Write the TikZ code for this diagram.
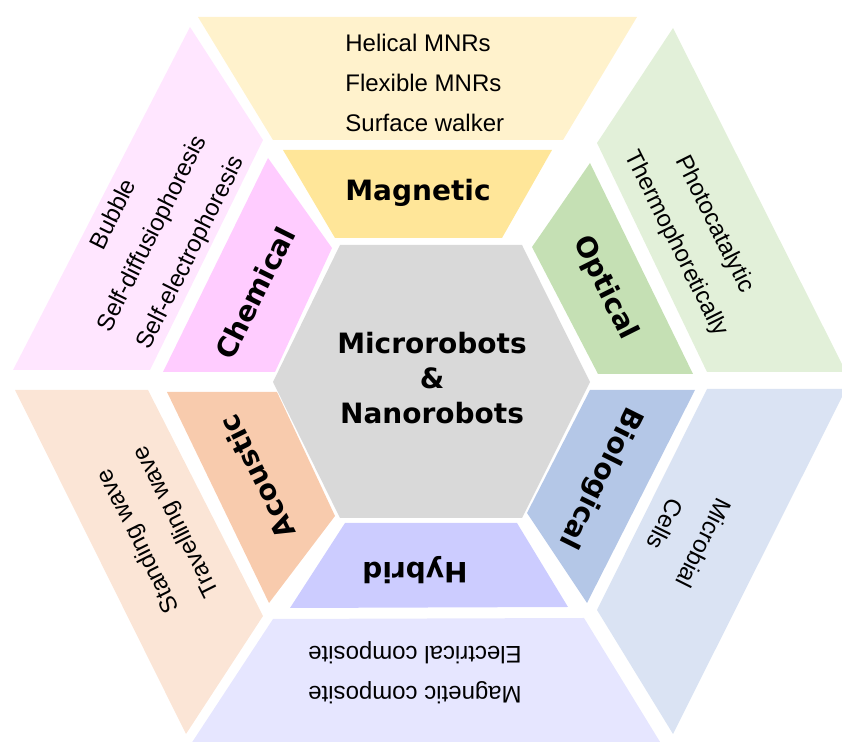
\documentclass[tikz,border=0pt]{standalone}
\usepackage{fontspec}
\setmainfont{Liberation Sans}
\newfontfamily\headfont{DejaVu Sans}

% fills, one darker and one lighter shade per class
\definecolor{coregray}{HTML}{D9D9D9}
\definecolor{magin}{HTML}{FFE699}
\definecolor{magout}{HTML}{FFF2CC}
\definecolor{chemin}{HTML}{FFCCFF}
\definecolor{chemout}{HTML}{FFE6FF}
\definecolor{optin}{HTML}{C5E0B4}
\definecolor{optout}{HTML}{E2F0D9}
\definecolor{bioin}{HTML}{B4C7E7}
\definecolor{bioout}{HTML}{DAE3F3}
\definecolor{hybin}{HTML}{CCCCFF}
\definecolor{hybout}{HTML}{E6E6FF}
\definecolor{acoin}{HTML}{F8CBAD}
\definecolor{acoout}{HTML}{FBE5D6}

\begin{document}
\begin{tikzpicture}[x=0.5pt,y=-0.5pt,
  head/.style={font=\headfont\bfseries\fontsize{14}{17.5}\selectfont,align=center,inner sep=0pt},
  item/.style={font=\fontsize{12}{20}\selectfont,align=center,inner sep=0pt},
  slant/.style={item,font=\fontsize{12}{21.5}\selectfont}]
  \useasboundingbox (0,0) rectangle (842,742);
  \clip (0,0) rectangle (842,742);
  % --- centre hexagon ---
  \fill[coregray] (340,245) -- (522,245) -- (590,382) -- (522,518) -- (340,518) -- (273,382) -- cycle;
  \node[head] (core) at (432,378) {Microrobots\\ \&\\ Nanorobots};
  % --- magnetic (top) ---
  \fill[magin] (283,150) -- (552,150) -- (502,238) -- (335,238) -- cycle;
  \fill[magout] (198,17) -- (637,17) -- (563,140) -- (273,140) -- cycle;
  \node[head] (mag) at (418,193) {Magnetic};
  \node[item,align=left,anchor=west] (magtx) at (345,83) {Helical MNRs\\Flexible MNRs\\Surface walker};
  % --- chemical (upper left) ---
  \fill[chemin] (268,158) -- (332,248) -- (275,372) -- (163,372) -- cycle;
  \fill[chemout] (190,27) -- (263,140) -- (150,370) -- (13,370) -- cycle;
  \node[head,rotate=63.5] (chem) at (255,293) {Chemical};
  \node[slant,rotate=63.5] (chemtx) at (153,234) {Bubble\\Self-diffusiophoresis\\Self-electrophoresis};
  % --- optical (upper right) ---
  \fill[optin] (590,163) -- (693,374) -- (598,374) -- (532,247) -- cycle;
  \fill[optout] (673,28) -- (846,372) -- (707,372) -- (597,143) -- cycle;
  \node[head,rotate=-63.5] (opt) at (605,288) {Optical};
  \node[slant,rotate=-63.5] (opttx) at (695,234) {Photocatalytic\\Thermophoretically};
  % --- biological (lower right) ---
  \fill[bioin] (590,390) -- (695,390) -- (587,603) -- (527,513) -- cycle;
  \fill[bioout] (707,389) -- (846,389) -- (673,734) -- (597,610) -- cycle;
  \node[head,rotate=-116.5] (bio) at (600,478) {Biological};
  \node[slant,rotate=-116.5] (biotx) at (685,534) {Microbial\\Cells};
  % --- hybrid (bottom) ---
  \fill[hybin] (345,523) -- (517,523) -- (568,607) -- (290,608) -- cycle;
  \fill[hybout] (273,619) -- (584,618) -- (665,750) -- (187,750) -- cycle;
  \node[head,rotate=180] (hyb) at (415,570) {Hybrid};
  \node[item,rotate=180] (hybtx) at (415,673) {Magnetic composite\\Electrical composite};
  % --- acoustic (lower left) ---
  \fill[acoin] (167,392) -- (277,392) -- (335,516) -- (269,603) -- cycle;
  \fill[acoout] (15,390) -- (148,390) -- (263,616) -- (186,734) -- cycle;
  \node[head,rotate=116.5] (aco) at (257,477) {Acoustic};
  \node[slant,rotate=116.5] (acotx) at (158,531) {Standing wave\\Travelling wave};
\end{tikzpicture}
\end{document}
